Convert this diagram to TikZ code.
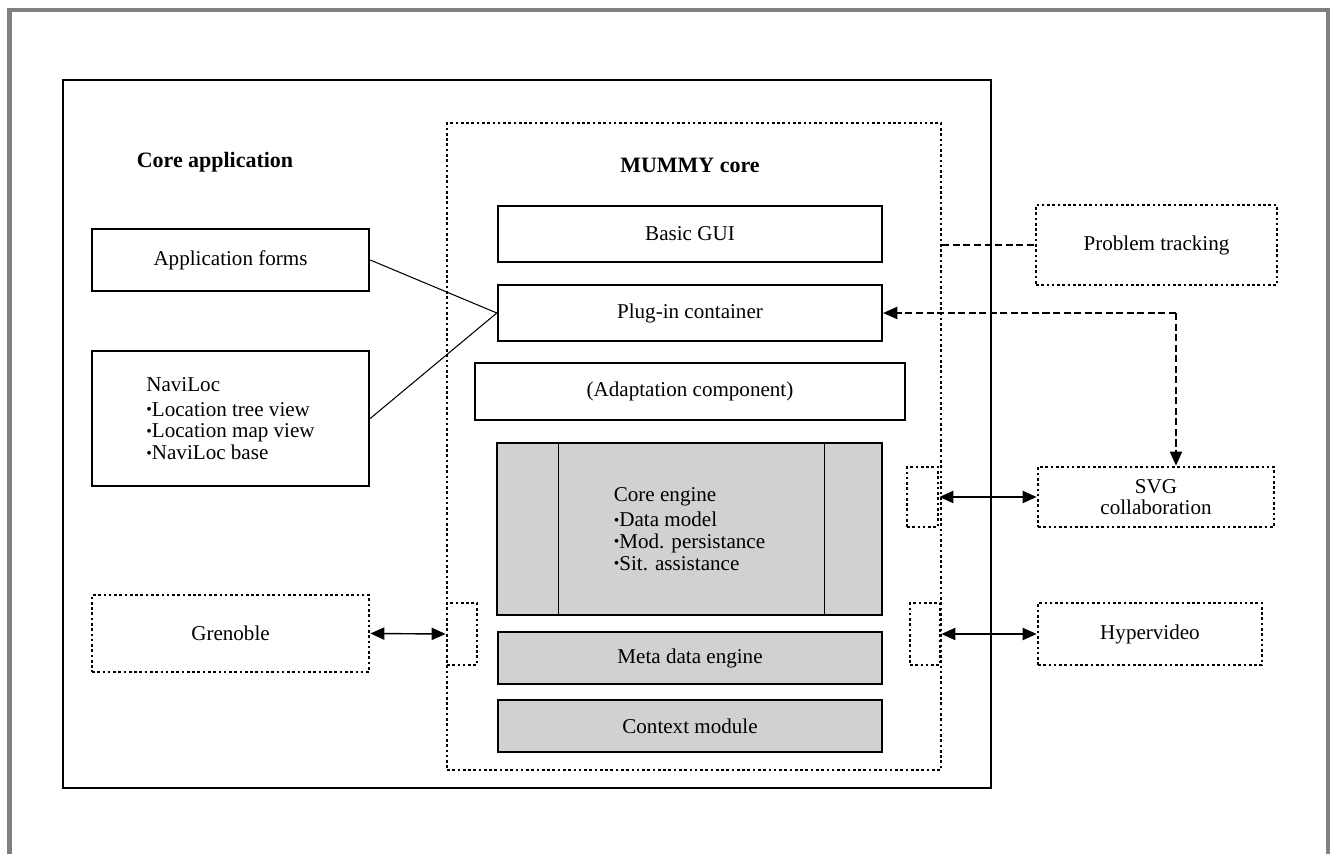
\documentclass[tikz,border=0pt]{standalone}
\usepackage{fontspec}
\setmainfont{Liberation Serif}
\usetikzlibrary{arrows.meta}

\newcommand{\itm}{{\small\raisebox{0.2ex}{\textbullet}}}

\begin{document}
\begin{tikzpicture}[
        x=0.02cm, y=-0.02cm,
        every node/.style={font=\fontsize{12}{12.3}\selectfont},
        block/.style={rectangle, draw, line width=1.4pt, inner sep=0pt, align=left},
        engine/.style={rectangle, draw, line width=0.8pt, fill=black!18, inner sep=0pt, align=left},
        extern/.style={rectangle, draw, line width=1.6pt, dash pattern=on 1.5pt off 1.5pt, inner sep=0pt, align=center},
        title/.style={font=\fontsize{12.5}{14}\selectfont\bfseries},
        link/.style={line width=0.6pt},
        dual/.style={line width=0.8pt, {Triangle[length=8pt,width=7pt]}-{Triangle[length=8pt,width=7pt]}},
        dashlink/.style={line width=0.6pt, dash pattern=on 4pt off 2pt}
    ]
        \useasboundingbox (0,0) rectangle (1330,854);

        % page frame
        \draw[line width=2.8pt, gray] (9.5,854) -- (9.5,10) -- (1328,10) -- (1328,854);

        % Core application
        \node[rectangle, draw, line width=0.8pt, minimum width=18.56cm, minimum height=14.16cm] (app) at (527,434) {};
        \node[title] (apptitle) at (215,162) {Core application};
        \node[block, minimum width=5.54cm, minimum height=1.24cm] (forms) at (230.5,260) {Application forms};
        \node[block, minimum width=5.54cm, minimum height=2.7cm] (naviloc) at (230.5,418.5) {NaviLoc\\[2pt]\itm Location tree view\\\itm Location map view\\\itm NaviLoc base};
        \node[extern, minimum width=5.54cm, minimum height=1.54cm] (grenoble) at (230.5,633.5) {Grenoble};

        % MUMMY core
        \node[extern, minimum width=9.88cm, minimum height=12.94cm] (mummy) at (694,446.5) {};
        \node[title] (mummytitle) at (690,165) {MUMMY core};
        \node[block, minimum width=7.68cm, minimum height=1.12cm] (gui) at (690,234) {Basic GUI};
        \node[block, minimum width=7.68cm, minimum height=1.12cm] (plugin) at (690,313) {Plug-in container};
        \node[block, minimum width=8.6cm, minimum height=1.14cm] (adapt) at (690,391.5) {(Adaptation component)};
        \node[engine, minimum width=7.7cm, minimum height=3.44cm] (core) at (689.5,529) {Core engine\\[2pt]\itm Data model\\\itm Mod. persistance\\\itm Sit. assistance};
        \draw[line width=0.6pt] (core.north west) ++(62,0) -- ++(0,172);
        \draw[line width=0.6pt] (core.north east) ++(-58,0) -- ++(0,172);
        \node[engine, minimum width=7.68cm, minimum height=1.04cm] (meta) at (690,658) {Meta data engine};
        \node[engine, minimum width=7.68cm, minimum height=1.04cm] (context) at (690,726) {Context module};

        % ports
        \node[extern, minimum width=0.6cm, minimum height=1.24cm] (portL) at (462,634) {};
        \node[extern, minimum width=0.62cm, minimum height=1.2cm] (portS) at (922.5,497) {};
        \node[extern, minimum width=0.6cm, minimum height=1.24cm] (portH) at (925,634) {};

        % external components
        \node[extern, minimum width=4.82cm, minimum height=1.6cm] (ptrack) at (1156.5,245) {Problem tracking};
        \node[extern, minimum width=4.72cm, minimum height=1.2cm] (svg) at (1156,497) {SVG\\collaboration};
        \node[extern, minimum width=4.48cm, minimum height=1.24cm] (hyper) at (1150,634) {Hypervideo};

        % connections
        \draw[link] (forms.east) -- (plugin.west);
        \draw[link] (naviloc.east) -- (plugin.west);
        \draw[dual] (grenoble.east) -- (portL.west);
        \draw[dual] (portS.east) -- (svg.west);
        \draw[dual] (portH.east) -- (hyper.west);
        \draw[dashlink] (mummy.east |- ptrack.west) -- (ptrack.west);
        \coordinate (bend) at (1176,313);
        \draw[dashlink, -{Triangle[length=8pt,width=7pt]}] (bend) -- (plugin.east);
        \draw[dashlink, -{Triangle[length=8pt,width=7pt]}] (bend) -- (bend |- svg.north);

    \end{tikzpicture}
\end{document}
